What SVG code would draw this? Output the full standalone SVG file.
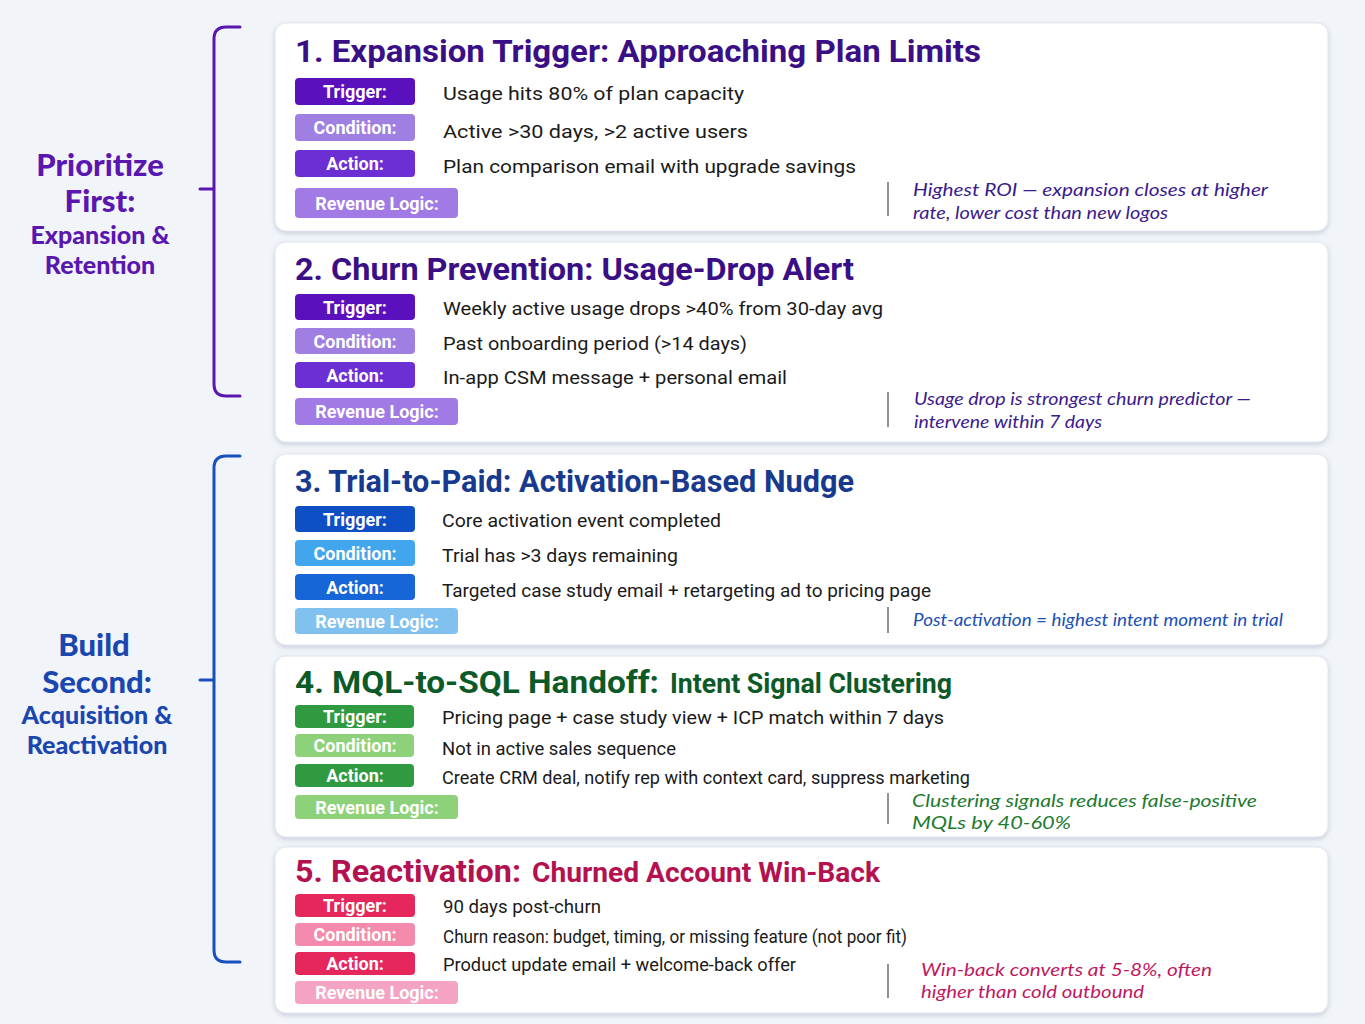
<svg xmlns="http://www.w3.org/2000/svg" width="1365" height="1024" viewBox="0 0 1365 1024">
<defs>
<filter id="sh" x="-5%" y="-10%" width="110%" height="125%">
<feDropShadow dx="0" dy="2" stdDeviation="2.5" flood-color="#7a869e" flood-opacity="0.35"/>
</filter>
<style>
.card{fill:#ffffff;stroke:#e1e6ef;stroke-width:1;filter:url(#sh)}
.title{font-family:Roboto,"Liberation Sans",sans-serif;font-weight:700;font-size:32px}
.sub{font-family:Roboto,"Liberation Sans",sans-serif;font-weight:700;font-size:27px}
.pill{rx:4;ry:4}
.pt{font-family:Roboto,"Liberation Sans",sans-serif;font-weight:700;font-size:18px;fill:#ffffff;text-anchor:middle}
.body{font-family:Roboto,"Liberation Sans",sans-serif;font-size:19px;fill:#1a1a1a}
.note{font-family:Lato,"Liberation Sans",sans-serif;font-style:italic;font-size:17px}
.sep{stroke:#555555;stroke-width:1.3}
.side{font-family:Lato,"Liberation Sans",sans-serif;font-weight:900;text-anchor:middle}
.brk{fill:none;stroke-width:3;stroke-linecap:round}
</style>
</defs>
<rect width="1365" height="1024" fill="#f1f4f9"/>

<g id="side-prioritize">
<text class="side" x="100" y="176" font-size="31" fill="#5a17b0">Prioritize</text>
<text class="side" x="100" y="212" font-size="31" fill="#5a17b0">First:</text>
<text class="side" x="100" y="244" font-size="25" fill="#5a17b0">Expansion &amp;</text>
<text class="side" x="100" y="274" font-size="25" fill="#5a17b0">Retention</text>
</g>
<g id="side-build">
<text class="side" x="94" y="656" font-size="31" fill="#1a46b0">Build</text>
<text class="side" x="97" y="693" font-size="31" fill="#1a46b0">Second:</text>
<text class="side" x="97" y="724" font-size="25" fill="#1a46b0">Acquisition &amp;</text>
<text class="side" x="97" y="754" font-size="25" fill="#1a46b0">Reactivation</text>
</g>

<g id="connectors">
<path class="brk" stroke="#5a17b0" d="M240 27 H226 Q214 27 214 39 V384 Q214 396 226 396 H240 M200 189 H214"/>
<path class="brk" stroke="#1a4fc0" d="M240 456 H226 Q214 456 214 468 V950 Q214 962 226 962 H240 M200 680 H214"/>
</g>

<g id="card1">
<rect class="card" x="275" y="23" width="1053" height="208" rx="11"/>
<text class="title" x="295" y="62" fill="#3a0f86" textLength="686" lengthAdjust="spacingAndGlyphs">1. Expansion Trigger: Approaching Plan Limits</text>
<rect class="pill" x="295" y="78" width="120" height="27" fill="#5b10bd"/>
<text class="pt" x="355" y="98">Trigger:</text>
<rect class="pill" x="295" y="114" width="120" height="27" fill="#a07fe2"/>
<text class="pt" x="355" y="134">Condition:</text>
<rect class="pill" x="295" y="150" width="120" height="27" fill="#6c2fd4"/>
<text class="pt" x="355" y="170">Action:</text>
<rect class="pill" x="295" y="188" width="163" height="30" fill="#a27ae6"/>
<text class="pt" x="377" y="210">Revenue Logic:</text>
<text class="body" x="443" y="100" textLength="301" lengthAdjust="spacingAndGlyphs">Usage hits 80% of plan capacity</text>
<text class="body" x="443" y="138" textLength="305" lengthAdjust="spacingAndGlyphs">Active &gt;30 days, &gt;2 active users</text>
<text class="body" x="443" y="173" textLength="413" lengthAdjust="spacingAndGlyphs">Plan comparison email with upgrade savings</text>
<line class="sep" x1="888" y1="182" x2="888" y2="216"/>
<text class="note" x="913" y="196" fill="#3a1a8c" textLength="355" lengthAdjust="spacingAndGlyphs">Highest ROI — expansion closes at higher</text>
<text class="note" x="913" y="219" fill="#3a1a8c" textLength="255" lengthAdjust="spacingAndGlyphs">rate, lower cost than new logos</text>
</g>

<g id="card2">
<rect class="card" x="275" y="242" width="1053" height="200" rx="11"/>
<text class="title" x="295" y="280" fill="#3a0f86" textLength="559" lengthAdjust="spacingAndGlyphs">2. Churn Prevention: Usage-Drop Alert</text>
<rect class="pill" x="295" y="294" width="120" height="26" fill="#5b10bd"/>
<text class="pt" x="355" y="313.5">Trigger:</text>
<rect class="pill" x="295" y="328" width="120" height="26" fill="#a07fe2"/>
<text class="pt" x="355" y="347.5">Condition:</text>
<rect class="pill" x="295" y="362" width="120" height="26" fill="#6c2fd4"/>
<text class="pt" x="355" y="381.5">Action:</text>
<rect class="pill" x="295" y="398" width="163" height="27" fill="#a27ae6"/>
<text class="pt" x="377" y="418">Revenue Logic:</text>
<text class="body" x="443" y="315" textLength="440" lengthAdjust="spacingAndGlyphs">Weekly active usage drops &gt;40% from 30-day avg</text>
<text class="body" x="443" y="350" textLength="304" lengthAdjust="spacingAndGlyphs">Past onboarding period (&gt;14 days)</text>
<text class="body" x="443" y="384" textLength="344" lengthAdjust="spacingAndGlyphs">In-app CSM message + personal email</text>
<line class="sep" x1="888" y1="392" x2="888" y2="427"/>
<text class="note" x="914" y="405" fill="#3a1a8c" textLength="337" lengthAdjust="spacingAndGlyphs">Usage drop is strongest churn predictor —</text>
<text class="note" x="914" y="428" fill="#3a1a8c" textLength="188" lengthAdjust="spacingAndGlyphs">intervene within 7 days</text>
</g>

<g id="card3">
<rect class="card" x="275" y="454" width="1053" height="191" rx="11"/>
<text class="title" x="295" y="492" fill="#173a8e" textLength="559" lengthAdjust="spacingAndGlyphs">3. Trial-to-Paid: Activation-Based Nudge</text>
<rect class="pill" x="295" y="506" width="120" height="26" fill="#0e4fc6"/>
<text class="pt" x="355" y="525.5">Trigger:</text>
<rect class="pill" x="295" y="540" width="120" height="26" fill="#42a6ee"/>
<text class="pt" x="355" y="559.5">Condition:</text>
<rect class="pill" x="295" y="574" width="120" height="26" fill="#1766d8"/>
<text class="pt" x="355" y="593.5">Action:</text>
<rect class="pill" x="295" y="608" width="163" height="26" fill="#80c1f0"/>
<text class="pt" x="377" y="627.5">Revenue Logic:</text>
<text class="body" x="442" y="527" textLength="279" lengthAdjust="spacingAndGlyphs">Core activation event completed</text>
<text class="body" x="442" y="562" textLength="236" lengthAdjust="spacingAndGlyphs">Trial has &gt;3 days remaining</text>
<text class="body" x="442" y="597" textLength="489" lengthAdjust="spacingAndGlyphs">Targeted case study email + retargeting ad to pricing page</text>
<line class="sep" x1="888" y1="607" x2="888" y2="633"/>
<text class="note" x="913" y="626" fill="#1a4fb5" textLength="370" lengthAdjust="spacingAndGlyphs">Post-activation = highest intent moment in trial</text>
</g>

<g id="card4">
<rect class="card" x="275" y="656" width="1053" height="181" rx="11"/>
<text class="title" x="295" y="693" fill="#0c5a28" textLength="364" lengthAdjust="spacingAndGlyphs">4. MQL-to-SQL Handoff:</text>
<text class="sub" x="670" y="693" fill="#0c5a28" textLength="282" lengthAdjust="spacingAndGlyphs">Intent Signal Clustering</text>
<rect class="pill" x="295" y="705" width="119" height="23" fill="#2f9a3f"/>
<text class="pt" x="355" y="722.5">Trigger:</text>
<rect class="pill" x="295" y="734" width="119" height="23" fill="#8dd27b"/>
<text class="pt" x="355" y="751.5">Condition:</text>
<rect class="pill" x="295" y="764" width="119" height="23" fill="#2f9a3f"/>
<text class="pt" x="355" y="781.5">Action:</text>
<rect class="pill" x="295" y="795" width="163" height="24" fill="#8dd27b"/>
<text class="pt" x="377" y="813.5">Revenue Logic:</text>
<text class="body" x="442" y="724" textLength="502" lengthAdjust="spacingAndGlyphs">Pricing page + case study view + ICP match within 7 days</text>
<text class="body" x="442" y="755" textLength="234" lengthAdjust="spacingAndGlyphs">Not in active sales sequence</text>
<text class="body" x="442" y="784" textLength="528" lengthAdjust="spacingAndGlyphs">Create CRM deal, notify rep with context card, suppress marketing</text>
<line class="sep" x1="888" y1="793" x2="888" y2="824"/>
<text class="note" x="912" y="807" fill="#1e7a2e" textLength="345" lengthAdjust="spacingAndGlyphs">Clustering signals reduces false-positive</text>
<text class="note" x="912" y="829" fill="#1e7a2e" textLength="159" lengthAdjust="spacingAndGlyphs">MQLs by 40-60%</text>
</g>

<g id="card5">
<rect class="card" x="275" y="847" width="1053" height="166" rx="11"/>
<text class="title" x="295" y="882" fill="#b3114f" textLength="226" lengthAdjust="spacingAndGlyphs">5. Reactivation:</text>
<text class="sub" x="532" y="882" fill="#b3114f" textLength="348" lengthAdjust="spacingAndGlyphs">Churned Account Win-Back</text>
<rect class="pill" x="295" y="894" width="120" height="23" fill="#e6275c"/>
<text class="pt" x="355" y="911.5">Trigger:</text>
<rect class="pill" x="295" y="923" width="120" height="23" fill="#f48aac"/>
<text class="pt" x="355" y="940.5">Condition:</text>
<rect class="pill" x="295" y="952" width="120" height="23" fill="#e6275c"/>
<text class="pt" x="355" y="969.5">Action:</text>
<rect class="pill" x="295" y="981" width="163" height="23" fill="#f5a3c3"/>
<text class="pt" x="377" y="998.5">Revenue Logic:</text>
<text class="body" x="443" y="913" textLength="158" lengthAdjust="spacingAndGlyphs">90 days post-churn</text>
<text class="body" x="443" y="943" textLength="464" lengthAdjust="spacingAndGlyphs">Churn reason: budget, timing, or missing feature (not poor fit)</text>
<text class="body" x="443" y="971" textLength="353" lengthAdjust="spacingAndGlyphs">Product update email + welcome-back offer</text>
<line class="sep" x1="888" y1="964" x2="888" y2="998"/>
<text class="note" x="921" y="976" fill="#c01860" textLength="291" lengthAdjust="spacingAndGlyphs">Win-back converts at 5-8%, often</text>
<text class="note" x="921" y="998" fill="#c01860" textLength="223" lengthAdjust="spacingAndGlyphs">higher than cold outbound</text>
</g>
</svg>
